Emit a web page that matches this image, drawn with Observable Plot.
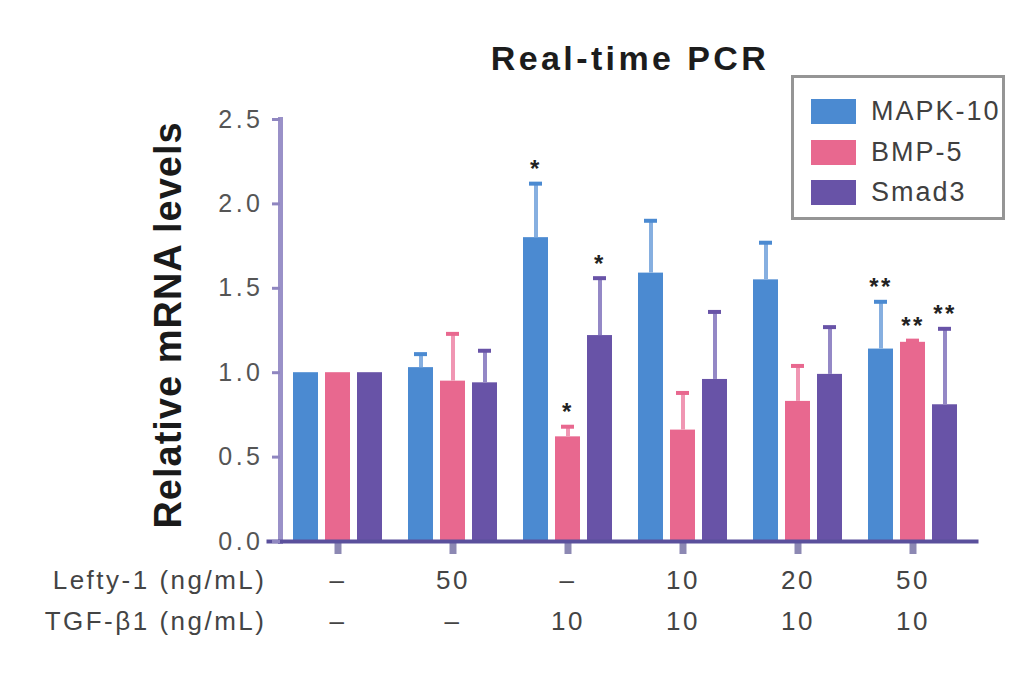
<!DOCTYPE html>
<html><head><meta charset="utf-8">
<script src="https://cdn.jsdelivr.net/npm/d3@7"></script>
<script src="https://cdn.jsdelivr.net/npm/@observablehq/plot@0.6"></script>
<style>
body{margin:0;background:#fff;font-family:"Liberation Sans",Arial,sans-serif;}
#wrap{position:relative;width:1024px;height:685px;overflow:hidden;}
#chart svg text{letter-spacing:2.5px;}
#chart svg .yax text{letter-spacing:3.5px;}
#title{position:absolute;left:0;top:38px;width:1260px;text-align:center;font-weight:bold;font-size:34px;letter-spacing:3.4px;color:#1c1c1c;line-height:40px;}
#ylabel{position:absolute;left:-82px;top:305px;width:500px;height:40px;line-height:40px;text-align:center;transform:rotate(-90deg);font-weight:bold;font-size:38px;letter-spacing:1px;color:#1a1a1a;}
#legend{position:absolute;left:791px;top:75px;width:214px;height:145px;box-sizing:border-box;border:3px solid #959595;background:#fff;}
.li{position:absolute;left:17px;height:26px;display:flex;align-items:center;}
.sw{width:45px;height:25px;margin-right:15px;}
.lt{font-size:27px;letter-spacing:2px;color:#404040;}
</style></head><body>
<div id="wrap">
<div id="chart"></div>
<div id="title">Real-time PCR</div>
<div id="ylabel">Relative mRNA levels</div>
<div id="legend"></div>
</div>
<script>
const groups = ["g1","g2","g3","g4","g5","g6"];
const leftyLabels = ["–","50","–","10","20","50"];
const tgfLabels = ["–","–","10","10","10","10"];
const series = ["MAPK-10","BMP-5","Smad3"];
const seriesColors = ["#4b8ad1","#e8688f","#6853a7"];
const errColors = ["#86afe0","#f096b3","#9488c6"];
const mapk = [1.00,1.03,1.80,1.59,1.55,1.14];
const mapkErr = [0,0.08,0.32,0.31,0.22,0.28];
const bmp = [1.00,0.95,0.62,0.66,0.83,1.18];
const bmpErr = [0,0.28,0.06,0.22,0.21,0.01];
const smad = [1.00,0.94,1.22,0.96,0.99,0.81];
const smadErr = [0,0.19,0.34,0.40,0.28,0.45];
const starGroups = ["g3","g3","g3","g6","g6","g6"];
const starSeries = ["MAPK-10","BMP-5","Smad3","MAPK-10","BMP-5","Smad3"];
const starText = ["*","*","*","**","**","**"];
const yTicks = [0,0.5,1.0,1.5,2.0,2.5];

const vals = [mapk,bmp,smad], errs = [mapkErr,bmpErr,smadErr];
const data = [];
groups.forEach((g,i)=>series.forEach((s,j)=>data.push({group:g,series:s,value:vals[j][i],err:errs[j][i],ec:errColors[j],cc:seriesColors[j]})));
const errData = data.filter(d=>d.err>0);
const stars = starGroups.map((g,k)=>{const d=data.find(e=>e.group===g&&e.series===starSeries[k]);return {group:g,series:starSeries[k],top:d.value+d.err,t:starText[k]};});
const groupInfo = groups.map((g,i)=>({group:g,lefty:leftyLabels[i],tgf:tgfLabels[i]}));

const chart = Plot.plot({
  width:1024,height:685,
  marginLeft:279,marginRight:47,marginTop:119,marginBottom:144,
  style:{fontFamily:'"Liberation Sans",Arial,sans-serif',background:"transparent"},
  fx:{domain:groups,paddingInner:0.23,paddingOuter:0.142,align:0.4,axis:null,label:null},
  x:{domain:series,paddingInner:0.22,paddingOuter:0,axis:null},
  y:{domain:[0,2.5],axis:null},
  color:{domain:series,range:seriesColors},
  marks:[
    Plot.barY(data,{fx:"group",x:"series",y:"value",fill:"series"}),
    Plot.ruleX(errData,{fx:"group",x:"series",y1:"value",y2:d=>d.value+d.err,stroke:"ec",strokeWidth:4}),
    Plot.tickY(errData,{fx:"group",x:"series",y:d=>d.value+d.err,stroke:"cc",strokeWidth:4,insetLeft:6,insetRight:6}),
    Plot.text(stars,{fx:"group",x:"series",y:"top",text:"t",dy:-14,fontSize:24,fontWeight:"bold",fill:"#222"}),
    Plot.ruleX(groupInfo,{fx:"group",x:()=>series[1],y1:0,y2:0,insetBottom:-13,stroke:"#8c88b3",strokeWidth:7}),
    Plot.frame({anchor:"left",facet:"super",insetLeft:-13,stroke:"#9a91c8",strokeWidth:5}),
    Plot.frame({anchor:"bottom",facet:"super",insetLeft:-25,insetRight:-19,stroke:"#5a509c",strokeWidth:4}),
    Plot.axisY({ticks:yTicks,tickFormat:d3.format(".1f"),tickSize:8,tickPadding:9,dx:-13,stroke:"#8f86c0",strokeWidth:3,fill:"#555",fontSize:25,className:"yax"}),
    Plot.text(groupInfo,{fx:"group",x:()=>series[1],frameAnchor:"bottom",dy:47,text:"lefty",fontSize:26,fill:"#444"}),
    Plot.text(groupInfo,{fx:"group",x:()=>series[1],frameAnchor:"bottom",dy:88,text:"tgf",fontSize:26,fill:"#444"}),
    Plot.text(["Lefty-1 (ng/mL)"],{facet:"super",frameAnchor:"bottom-left",textAnchor:"end",dx:-27,dy:47,fontSize:26,fill:"#444"}),
    Plot.text(["TGF-β1 (ng/mL)"],{facet:"super",frameAnchor:"bottom-left",textAnchor:"end",dx:-27,dy:88,fontSize:26,fill:"#444"})
  ]
});
document.getElementById("chart").appendChild(chart);

const leg = document.getElementById("legend");
const rowTops = [20,61,101];
series.forEach((s,j)=>{
  const row=document.createElement("div");row.className="li";row.style.top=rowTops[j]+"px";
  const sw=document.createElement("div");sw.className="sw";sw.style.background=seriesColors[j];
  const t=document.createElement("span");t.className="lt";t.textContent=s;
  row.appendChild(sw);row.appendChild(t);leg.appendChild(row);
});
</script>
</body></html>
